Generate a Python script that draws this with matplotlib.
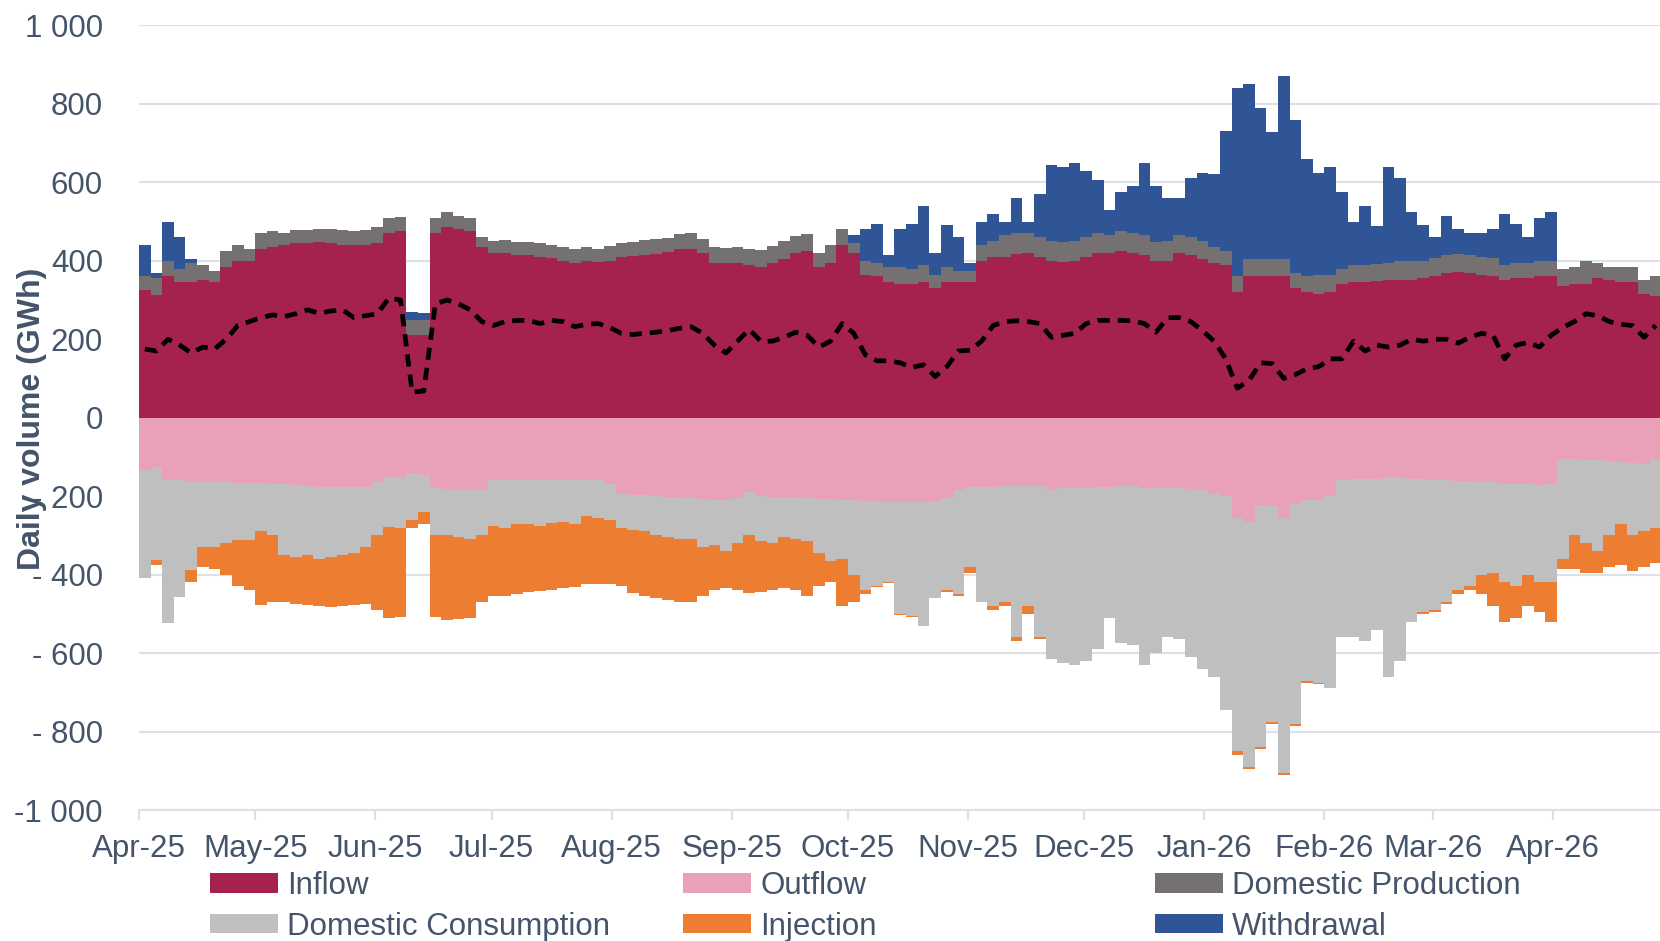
import numpy as np
import pandas as pd
import matplotlib
matplotlib.use("Agg")
import matplotlib.pyplot as plt
from matplotlib.ticker import FuncFormatter, FixedLocator

plt.rcParams['font.family'] = ['Liberation Sans', 'DejaVu Sans']

START = pd.Timestamp("2025-04-01")
STEP = 3          # days per bar (values read at 3-day resolution)
N_DAYS_SHOWN = 392.6

# ---------------- data (GWh/day, 3-day bins from 1 Apr 2025) ----------------
inflow = [325, 312, 360, 345, 345, 350, 345, 385, 400, 400,
          430, 435, 440, 445, 445, 447, 445, 440, 440, 440,
          445, 470, 475, 210, 210, 470, 485, 480, 475, 435,
          420, 420, 415, 415, 410, 408, 400, 395, 400, 398,
          400, 410, 412, 415, 418, 422, 430, 430, 420, 395,
          395, 395, 390, 385, 395, 405, 420, 425, 385, 395,
          440, 420, 365, 360, 345, 342, 340, 345, 330, 345,
          345, 345, 400, 410, 410, 418, 420, 410, 400, 398,
          400, 410, 420, 420, 425, 420, 415, 400, 400, 420,
          415, 405, 395, 390, 320, 360, 360, 362, 360, 330,
          320, 315, 320, 340, 345, 345, 348, 350, 350, 352,
          355, 360, 368, 372, 370, 365, 362, 350, 355, 355,
          360, 360, 335, 340, 340, 355, 350, 345, 345, 315,
          310]
production = [35, 43, 40, 35, 50, 40, 30, 40, 40, 30,
              40, 40, 30, 33, 33, 33, 35, 38, 35, 38,
              40, 40, 37, 40, 40, 40, 40, 35, 35, 25,
              30, 32, 33, 33, 35, 32, 35, 35, 35, 32,
              38, 35, 36, 37, 37, 36, 38, 40, 35, 40,
              37, 40, 40, 43, 43, 45, 42, 43, 35, 45,
              40, 25, 35, 35, 40, 43, 40, 45, 35, 40,
              30, 30, 40, 40, 55, 52, 50, 50, 50, 50,
              50, 50, 50, 45, 50, 50, 50, 48, 50, 45,
              45, 45, 40, 35, 40, 45, 45, 43, 45, 40,
              40, 50, 45, 40, 45, 45, 44, 45, 50, 48,
              45, 48, 47, 46, 45, 45, 46, 40, 40, 40,
              40, 40, 45, 45, 60, 40, 35, 40, 40, 35,
              50]
withdrawal = [80, 15, 100, 80, 10, 0, 0, 0, 0, 0,
              0, 0, 0, 0, 0, 0, 0, 0, 0, 0,
              0, 0, 0, 20, 18, 0, 0, 0, 0, 0,
              0, 0, 0, 0, 0, 0, 0, 0, 0, 0,
              0, 0, 0, 0, 0, 0, 0, 0, 0, 0,
              0, 0, 0, 0, 0, 0, 0, 0, 0, 0,
              0, 20, 80, 100, 30, 95, 115, 150, 55, 105,
              85, 20, 60, 70, 35, 90, 30, 110, 195, 192,
              200, 170, 135, 65, 100, 120, 185, 142, 110, 95,
              150, 175, 185, 305, 480, 445, 385, 323, 465, 390,
              300, 260, 275, 195, 110, 150, 96, 245, 210, 125,
              90, 52, 100, 62, 55, 60, 72, 130, 100, 65,
              110, 125, 0, 0, 0, 0, 0, 0, 0, 0,
              0]
outflow = [133, 125, 159, 159, 163, 163, 163, 165, 167, 167,
           167, 168, 170, 172, 175, 176, 176, 176, 176, 176,
           165, 150, 150, 142, 146, 180, 182, 185, 185, 185,
           160, 158, 158, 160, 160, 158, 158, 160, 160, 160,
           170, 195, 197, 198, 200, 202, 203, 205, 207, 210,
           210, 205, 190, 200, 202, 203, 203, 205, 208, 208,
           210, 210, 212, 212, 215, 215, 215, 215, 212, 205,
           185, 176, 176, 176, 173, 173, 173, 175, 185, 180,
           180, 178, 176, 176, 175, 175, 178, 180, 180, 180,
           182, 185, 195, 200, 255, 265, 222, 225, 255, 220,
           210, 210, 200, 158, 155, 155, 155, 152, 152, 155,
           155, 158, 160, 162, 162, 165, 165, 168, 168, 170,
           172, 170, 105, 105, 108, 108, 110, 112, 115, 118,
           105]
consumption = [276, 238, 365, 297, 225, 166, 167, 155, 145, 145,
               123, 132, 180, 182, 175, 184, 179, 174, 169, 154,
               135, 128, 130, 120, 94, 120, 118, 120, 125, 115,
               115, 122, 112, 112, 115, 110, 107, 110, 90, 95,
               92, 85, 88, 92, 100, 103, 107, 105, 123, 115,
               130, 115, 110, 115, 118, 102, 107, 110, 137, 157,
               150, 190, 228, 218, 205, 285, 290, 315, 248, 235,
               265, 204, 294, 304, 297, 387, 307, 385, 430, 445,
               450, 442, 414, 334, 400, 405, 452, 420, 380, 385,
               428, 455, 465, 545, 595, 625, 618, 550, 650, 560,
               460, 465, 490, 402, 405, 415, 385, 508, 468, 365,
               340, 332, 310, 278, 268, 235, 230, 252, 262, 230,
               248, 250, 255, 195, 212, 232, 190, 158, 185, 172,
               175]
injection = [0, 12, 0, 0, 30, 51, 55, 80, 118, 128,
             187, 170, 120, 121, 128, 121, 128, 130, 133, 145,
             190, 232, 228, 20, 30, 207, 215, 207, 200, 170,
             180, 175, 180, 173, 167, 172, 170, 162, 175, 170,
             163, 150, 163, 165, 160, 160, 160, 160, 125, 115,
             95, 120, 148, 130, 120, 130, 130, 140, 85, 55,
             120, 70, 10, 2, 2, 2, 3, 0, 0, 5,
             5, 15, 0, 10, 10, 10, 20, 5, 0, 0,
             0, 0, 0, 0, 0, 0, 0, 0, 0, 0,
             0, 0, 2, 0, 10, 5, 5, 5, 5, 5,
             5, 5, 0, 0, 0, 0, 0, 0, 0, 0,
             5, 5, 5, 10, 10, 50, 85, 100, 80, 80,
             75, 100, 25, 85, 75, 55, 80, 105, 90, 90,
             90]
net_balance = [175, 170, 200, 185, 165, 180, 175, 200, 235, 245,
               255, 262, 258, 265, 275, 266, 272, 275, 255, 260,
               265, 305, 300, 65, 68, 290, 300, 290, 275, 245,
               235, 245, 248, 248, 240, 248, 245, 232, 238, 240,
               230, 215, 212, 215, 218, 222, 228, 232, 215, 185,
               165, 195, 225, 195, 195, 205, 218, 210, 180, 195,
               240, 215, 160, 145, 145, 140, 128, 135, 105, 130,
               170, 172, 195, 235, 245, 247, 245, 240, 205, 210,
               215, 240, 248, 248, 248, 247, 240, 218, 255, 255,
               245, 222, 195, 150, 75, 95, 140, 138, 100, 110,
               125, 130, 150, 150, 195, 170, 185, 180, 185, 200,
               195, 200, 200, 190, 205, 215, 210, 150, 185, 192,
               180, 210, 230, 245, 265, 260, 245, 238, 235, 205,
               235]

C_INFLOW = "#A6224E"
C_OUTFLOW = "#E8A1B9"
C_PROD = "#767171"
C_CONS = "#BFBFBF"
C_INJ = "#ED7D31"
C_WD = "#2F5597"
C_TEXT = "#44546A"
C_GRID = "#DCE1E8"

inf = np.array(inflow, float); prd = np.array(production, float)
wd = np.array(withdrawal, float); out = np.array(outflow, float)
cons = np.array(consumption, float); inj = np.array(injection, float)
edges = np.arange(len(inf) + 1) * STEP
centers = edges[:-1] + STEP / 2

fig = plt.figure(figsize=(16.6, 9.41), dpi=100)
ax = fig.add_axes([139 / 1660, 1 - 810 / 941, 1 - 139 / 1660, (810 - 25.4) / 941])

h_in = ax.stairs(inf, edges, baseline=0, fill=True, color=C_INFLOW, lw=0, label="Inflow")
h_pr = ax.stairs(inf + prd, edges, baseline=inf, fill=True, color=C_PROD, lw=0,
                 label="Domestic Production")
h_wd = ax.stairs(inf + prd + wd, edges, baseline=inf + prd, fill=True, color=C_WD, lw=0,
                 label="Withdrawal")
h_out = ax.stairs(-out, edges, baseline=0, fill=True, color=C_OUTFLOW, lw=0, label="Outflow")
h_co = ax.stairs(-(out + cons), edges, baseline=-out, fill=True, color=C_CONS, lw=0,
                 label="Domestic Consumption")
h_inj = ax.stairs(-(out + cons + inj), edges, baseline=-(out + cons), fill=True, color=C_INJ,
                  lw=0, label="Injection")
ax.plot(centers, net_balance, color="black", lw=3.4, ls=(0, (2.6, 1.7)), zorder=5)

ax.set_xlim(0, N_DAYS_SHOWN)
ax.set_ylim(-1000, 1000)
ax.set_yticks(np.arange(-1000, 1001, 200))

def ylab(v, _):
    v = int(round(v))
    if v == 0:
        return "0"
    s = f"{abs(v):,}".replace(",", " ")
    if v < 0:
        return "-" + s if abs(v) >= 1000 else "- " + s
    return s

ax.yaxis.set_major_formatter(FuncFormatter(ylab))
months = pd.date_range("2025-04-01", "2026-04-01", freq="MS")
ax.xaxis.set_major_locator(FixedLocator([(m - START).days for m in months]))
ax.set_xticklabels([m.strftime("%b-%y") for m in months])

ax.grid(axis="y", color=C_GRID, lw=1.5)
ax.set_axisbelow(True)
for s in ("top", "right", "left"):
    ax.spines[s].set_visible(False)
ax.spines["bottom"].set_color(C_GRID)
ax.spines["bottom"].set_linewidth(1.5)
ax.tick_params(axis="y", length=0, pad=26, labelsize=22.5, labelcolor=C_TEXT)
ax.tick_params(axis="x", length=7, width=1.5, color=C_GRID, pad=10.5,
               labelsize=22.5, labelcolor=C_TEXT)

fig.text(32 / 1660, 1 - 419 / 941, "Daily volume (GWh)", rotation=90, ha="center",
         va="center", fontsize=23, fontweight="bold", color=C_TEXT)

cols = [(h_in, h_co), (h_out, h_inj), (h_pr, h_wd)]
for xpx, hs in zip([210, 683, 1155], cols):
    fig.legend(handles=list(hs), loc="upper left", bbox_to_anchor=(xpx / 1660, 1 - 871 / 941),
               frameon=False, fontsize=22.5, borderpad=0, borderaxespad=0,
               handlelength=2.18, handleheight=0.58, handletextpad=0.29,
               labelspacing=0.34, labelcolor=C_TEXT)

fig.savefig("out.png", dpi=100)
